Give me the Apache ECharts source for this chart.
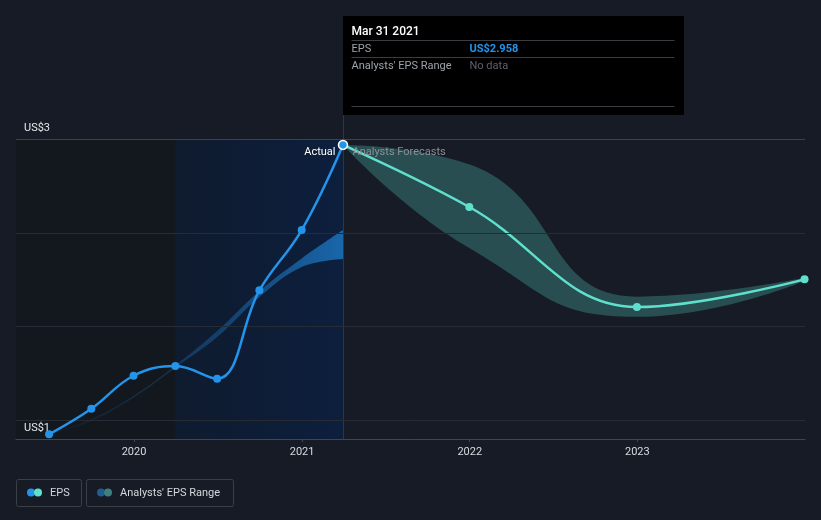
<!DOCTYPE html>
<html>
<head>
<meta charset="utf-8">
<script src="https://cdn.jsdelivr.net/npm/echarts@6/dist/echarts.min.js"></script>
<style>
  html, body { margin: 0; padding: 0; background: #161b26; }
  #chart { width: 821px; height: 520px; }
</style>
</head>
<body>
<div id="chart"></div>
<script>
// actual EPS (trailing twelve months)
var epsDates = ['2019-06-30', '2019-09-30', '2019-12-31', '2020-03-31', '2020-06-30', '2020-09-30', '2020-12-31', '2021-03-31'];
var epsValues = [0.898, 1.080, 1.315, 1.384, 1.294, 1.923, 2.352, 2.958];

// past analysts' range
var pastLow = [0.897, 0.995, 1.160, 1.372, 1.590, 1.875, 2.089, 2.146];
var pastHigh = [0.899, 1.005, 1.172, 1.388, 1.633, 1.918, 2.150, 2.352];

// analysts forecasts
var fcDates = ['2021-03-31', '2021-12-31', '2022-12-31', '2023-12-31'];
var fcValues = [2.958, 2.516, 1.804, 2.001];
var fcLow = [2.958, 2.225, 1.735, 1.990];
var fcHigh = [2.958, 2.820, 1.878, 2.012];

// y gridlines / labels
var gridValues = [1, 1.6667, 2.3333, 3];
var gridLabels = ['US$1', '', '', 'US$3'];
var xLabelYears = [2020, 2021, 2022, 2023];

var xMin = '2019-04-19';
var xMax = '2024-01-01';
var pastStart = '2020-03-31';
var lastActual = '2021-03-31';

var tipTitle = 'Mar 31 2021';
var tipEps = 'US$2.958';

var FONT = 'Roboto';
var chart = echarts.init(document.getElementById('chart'));

function pairs(dates, vals) {
  return dates.map(function (d, i) { return [d, vals[i]]; });
}
function diff(dates, lo, hi) {
  return dates.map(function (d, i) { return [d, +(hi[i] - lo[i]).toFixed(4)]; });
}

var option = {
  backgroundColor: '#161b26',
  animation: false,
  grid: { left: 16, right: 16, top: 139, bottom: 81 },
  xAxis: {
    type: 'time',
    min: xMin,
    max: xMax,
    splitNumber: 5,
    axisLine: { lineStyle: { color: '#40464f', width: 1 } },
    axisTick: { show: true, length: 3, lineStyle: { color: '#40464f' } },
    splitLine: { show: false },
    axisLabel: {
      color: '#d8dbe0',
      fontFamily: FONT,
      fontSize: 11,
      margin: 8,
      formatter: function (v) {
        var d = new Date(v);
        var y = d.getFullYear();
        if (d.getMonth() === 0 && d.getDate() === 1 && xLabelYears.indexOf(y) >= 0) return String(y);
        return '';
      }
    }
  },
  yAxis: {
    type: 'value',
    min: 0.8648,
    max: 3,
    show: false,
    splitLine: { show: false }
  },
  series: [
    {
      // background zones + gridlines
      type: 'line',
      data: [],
      silent: true,
      z: 0,
      markArea: {
        silent: true,
        data: [
          [{ xAxis: xMin, itemStyle: { color: '#13171e' } }, { xAxis: pastStart }],
          [{
            xAxis: pastStart,
            itemStyle: {
              color: {
                type: 'linear', x: 0, y: 0, x2: 1, y2: 0,
                colorStops: [{ offset: 0, color: '#0f1b2e' }, { offset: 1, color: '#0c1f3d' }]
              }
            }
          }, { xAxis: lastActual }]
        ]
      },
      markLine: {
        silent: true,
        symbol: 'none',
        data: gridValues.map(function (v, i) {
          var top = i === gridValues.length - 1;
          return {
            yAxis: v,
            lineStyle: { color: top ? '#3d434c' : '#262b34', width: 1, type: 'solid' },
            label: {
              show: gridLabels[i] !== '',
              formatter: gridLabels[i],
              position: top ? 'insideStartTop' : 'insideStartBottom',
              color: '#e6e8eb',
              fontFamily: FONT,
              fontSize: 11,
              distance: top ? [8, 5] : [8, 3]
            }
          };
        })
      }
    },
    {
      name: 'pastLow',
      type: 'line',
      stack: 'past',
      data: pairs(epsDates, pastLow),
      smooth: 0.4,
      symbol: 'none',
      lineStyle: { width: 0, opacity: 0 },
      silent: true,
      z: 2
    },
    {
      name: 'pastBand',
      type: 'line',
      stack: 'past',
      data: diff(epsDates, pastLow, pastHigh),
      smooth: 0.4,
      symbol: 'none',
      lineStyle: { width: 0, opacity: 0 },
      areaStyle: {
        opacity: 1,
        color: {
          type: 'linear', x: 0, y: 0, x2: 1, y2: 0,
          colorStops: [
            { offset: 0, color: 'rgba(33,150,243,0.05)' },
            { offset: 0.6, color: 'rgba(33,150,243,0.3)' },
            { offset: 1, color: 'rgba(33,150,243,0.6)' }
          ]
        }
      },
      silent: true,
      z: 2
    },
    {
      name: 'fcLow',
      type: 'line',
      stack: 'fc',
      data: pairs(fcDates, fcLow),
      smooth: 0.5,
      symbol: 'none',
      lineStyle: { width: 0, opacity: 0 },
      silent: true,
      z: 2
    },
    {
      name: 'fcBand',
      type: 'line',
      stack: 'fc',
      data: diff(fcDates, fcLow, fcHigh),
      smooth: 0.5,
      symbol: 'none',
      lineStyle: { width: 0, opacity: 0 },
      areaStyle: { opacity: 1, color: 'rgba(93,224,207,0.26)' },
      silent: true,
      z: 2
    },
    {
      name: 'Forecast',
      type: 'line',
      data: pairs(fcDates, fcValues).map(function (p, i) {
        return i === 0 ? { value: p, symbolSize: 0 } : p;
      }),
      smooth: 0.4,
      symbol: 'circle',
      symbolSize: 8,
      showAllSymbol: true,
      lineStyle: { color: '#5ee0cd', width: 2.5 },
      itemStyle: { color: '#5ee0cd' },
      z: 4
    },
    {
      name: 'EPS',
      type: 'line',
      data: pairs(epsDates, epsValues).map(function (p, i) {
        if (i === epsDates.length - 1) {
          return { value: p, symbolSize: 9, itemStyle: { color: '#2394ea', borderColor: '#ffffff', borderWidth: 1.5 } };
        }
        return p;
      }),
      smooth: 0.4,
      symbol: 'circle',
      symbolSize: 8,
      showAllSymbol: true,
      lineStyle: { color: '#2394ea', width: 2.5 },
      itemStyle: { color: '#2394ea' },
      z: 5
    }
  ]
};

chart.setOption(option);

// overlays anchored to the last actual point
var p = chart.convertToPixel({ gridIndex: 0 }, [lastActual, epsValues[epsValues.length - 1]]);
var px = Math.round(p[0]) + 0.5;
var axisY = chart.convertToPixel({ yAxisIndex: 0 }, 0.8648);

function t(x, y, text, color, size, weight, align) {
  return {
    type: 'text', x: x, y: y, silent: true, z: 100,
    style: {
      text: text, fill: color, fontFamily: FONT, fontSize: size || 11,
      fontWeight: weight || 'normal', align: align || 'left', verticalAlign: 'middle'
    }
  };
}
function hline(x1, x2, y, color) {
  return { type: 'line', silent: true, z: 99, shape: { x1: x1, y1: y, x2: x2, y2: y }, style: { stroke: color, lineWidth: 1 } };
}

var tx = px + 8;
var vx = px + 126;
chart.setOption({
  graphic: [
    { type: 'line', silent: true, z: 1, shape: { x1: px, y1: 115, x2: px, y2: axisY }, style: { stroke: '#1b3a63', lineWidth: 1 } },
    { type: 'rect', silent: true, z: 98, shape: { x: px - 0.5, y: 16, width: 341, height: 99 }, style: { fill: '#000000' } },
    t(tx, 32, tipTitle, '#ffffff', 12, 500),
    hline(tx, tx + 323, 40.5, '#3a3d42'),
    t(tx, 49.5, 'EPS', '#9ea3aa', 11),
    t(vx, 49.5, tipEps, '#2394ea', 11, 'bold'),
    hline(tx, tx + 323, 57.5, '#3a3d42'),
    t(tx, 66.5, "Analysts' EPS Range", '#9ea3aa', 11),
    t(vx, 66.5, 'No data', '#5d6168', 11),
    hline(tx, tx + 323, 106.5, '#3a3d42'),

    t(px - 8, p[1] + 7, 'Actual', '#ffffff', 11, 'normal', 'right'),
    t(px + 9, p[1] + 7, 'Analysts Forecasts', '#8b9097', 11),

    // legend
    { type: 'rect', silent: true, z: 100, shape: { x: 16.5, y: 479.5, width: 65, height: 27, r: 2 }, style: { fill: 'none', stroke: '#3a3f48', lineWidth: 1 } },
    { type: 'circle', silent: true, z: 100, shape: { cx: 31, cy: 492.5, r: 4 }, style: { fill: '#2394ea' } },
    { type: 'circle', silent: true, z: 100, shape: { cx: 38, cy: 492.5, r: 4 }, style: { fill: '#5ee0cd' } },
    t(50, 493, 'EPS', '#d4d7dc', 11),
    { type: 'rect', silent: true, z: 100, shape: { x: 86.5, y: 479.5, width: 147, height: 27, r: 2 }, style: { fill: 'none', stroke: '#3a3f48', lineWidth: 1 } },
    { type: 'circle', silent: true, z: 100, shape: { cx: 101, cy: 492.5, r: 4 }, style: { fill: '#1f5d92' } },
    { type: 'circle', silent: true, z: 100, shape: { cx: 108, cy: 492.5, r: 4 }, style: { fill: '#3f7f7c' } },
    t(120, 493, "Analysts' EPS Range", '#d4d7dc', 11)
  ]
});
</script>
</body>
</html>
